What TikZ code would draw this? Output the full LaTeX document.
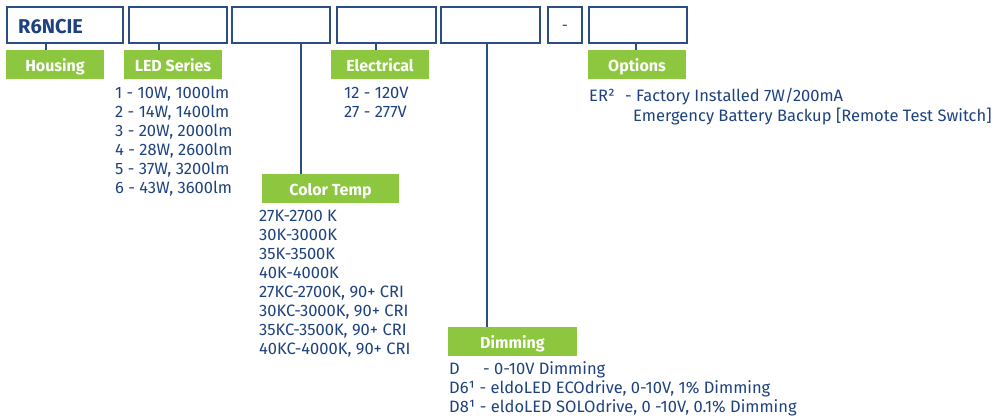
\documentclass[tikz,border=0pt]{standalone}
\usepackage{fontspec}
\setmainfont{Fira Sans}
\definecolor{navy}{HTML}{1E427E}
\definecolor{boxline}{HTML}{2B4E85}
\definecolor{lgreen}{HTML}{8DC63F}
\tikzset{
  codebox/.style={draw=boxline, line width=1.4pt, fill=white, minimum height=36pt, inner sep=0pt},
  glabel/.style={fill=lgreen, text=white, minimum height=29pt, inner sep=0pt,
    font=\fontsize{16}{18}\selectfont\bfseries, text height=14pt, text depth=1pt},
  conn/.style={draw=boxline, line width=1.3pt},
  item/.style={anchor=base west, inner sep=0pt, text=navy, font=\fontsize{16.5}{19}\selectfont}
}
\begin{document}
\begin{tikzpicture}[x=1pt,y=-1pt]
\useasboundingbox (0,0) rectangle (997,418);
% code boxes
\node[codebox, minimum width=116pt] (b1) at (65,25) {};
\node[codebox, minimum width=98pt] (b2) at (178,25) {};
\node[codebox, minimum width=98pt] (b3) at (281,25) {};
\node[codebox, minimum width=99pt] (b4) at (386.5,25) {};
\node[codebox, minimum width=99pt] (b5) at (490.5,25) {};
\node[codebox, minimum width=34pt] (b6) at (565,25) {};
\node[codebox, minimum width=98pt] (b7) at (638,25) {};
\node[anchor=base west, inner sep=0pt, text=navy, font=\fontsize{20}{22}\selectfont\bfseries] (title) at (18,33) {R6NCIE};
\node[anchor=base, inner sep=0pt, text=navy, font=\fontsize{15}{19}\selectfont] (dash) at (565,30) {-};
% labels
\node[glabel, minimum width=98pt] (housing) at (55,64.5) {Housing};
\node[glabel, minimum width=98pt] (led) at (173,64.5) {LED Series};
\node[glabel, minimum width=98pt] (elec) at (380,64.5) {Electrical};
\node[glabel, minimum width=98pt] (opts) at (637,64.5) {Options};
\node[glabel, minimum width=137pt] (ct) at (330.5,188.5) {Color Temp};
\node[glabel, minimum width=129pt] (dim) at (512.5,341.5) {Dimming};
% connectors
\coordinate (x1) at (46,0);
\coordinate (x2) at (159,0);
\coordinate (x3) at (301,0);
\coordinate (x4) at (376,0);
\coordinate (x5) at (487,0);
\coordinate (x6) at (636,0);
\draw[conn] (b1.south -| x1) -- (housing.north -| x1);
\draw[conn] (b2.south -| x2) -- (led.north -| x2);
\draw[conn] (b3.south -| x3) -- (ct.north -| x3);
\draw[conn] (b4.south -| x4) -- (elec.north -| x4);
\draw[conn] (b5.south -| x5) -- (dim.north -| x5);
\draw[conn] (b7.south -| x6) -- (opts.north -| x6);
% LED series list
\foreach \t [count=\i] in {{1 - 10W, 1000lm}, {2 - 14W, 1400lm}, {3 - 20W, 2000lm}, {4 - 28W, 2600lm}, {5 - 37W, 3200lm}, {6 - 43W, 3600lm}}{
  \node[item] (led\i) at (115,{98.5+19*(\i-1)}) {\t};
}
% Electrical
\node[item] (el1) at (344,98.5) {12 - 120V};
\node[item] (el2) at (344,117.5) {27 - 277V};
% Options
\node[item] (op0) at (589,101.5) {ER²};
\node[item] (op1) at (625,101.5) {- Factory Installed 7W/200mA};
\node[item] (op2) at (633,121) {Emergency Battery Backup [Remote Test Switch]};
% Color temp
\foreach \t [count=\i] in {{27K-2700 K}, {30K-3000K}, {35K-3500K}, {40K-4000K}, {27KC-2700K, 90+ CRI}, {30KC-3000K, 90+ CRI}, {35KC-3500K, 90+ CRI}, {40KC-4000K, 90+ CRI}}{
  \node[item] (ct\i) at (259,{221+19*(\i-1)}) {\t};
}
% Dimming
\node[item] (dm0) at (449,374) {D};
\node[item] (dm1) at (483,374) {- 0-10V Dimming};
\node[item] (dm2) at (449,393) {D6¹ - eldoLED ECOdrive, 0-10V, 1\% Dimming};
\node[item] (dm3) at (449,412) {D8¹ - eldoLED SOLOdrive, 0 -10V, 0.1\% Dimming};
\end{tikzpicture}
\end{document}
